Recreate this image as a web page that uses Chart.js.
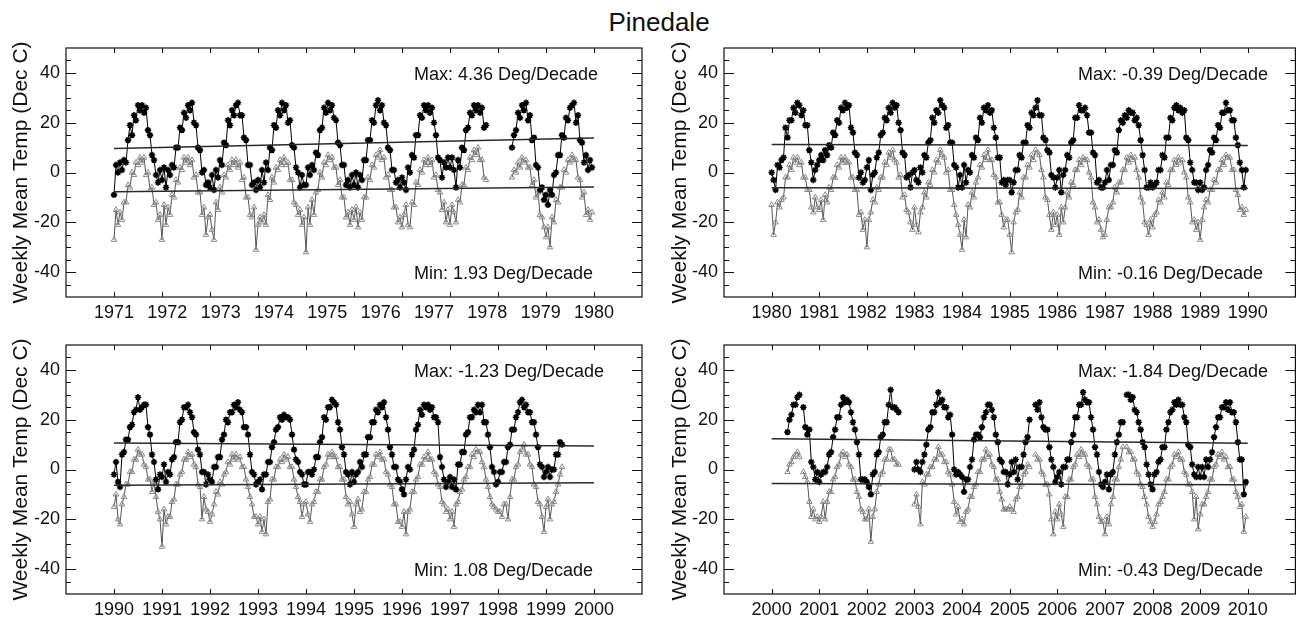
<!DOCTYPE html>
<html><head><meta charset="utf-8">
<script src="https://cdn.jsdelivr.net/npm/chart.js@4.4.0/dist/chart.umd.min.js"></script>
<style>
html,body{margin:0;padding:0;background:#fff;width:1301px;height:617px;overflow:hidden;position:relative;}
#title{position:absolute;left:0;width:1318px;top:9px;line-height:26px;text-align:center;font-size:26px;font-family:"Liberation Sans",Arial,Helvetica,sans-serif;color:#111;}
canvas{position:absolute;}
</style></head><body>
<div id="title">Pinedale</div>
<canvas id="c0" width="655" height="330" style="left:0;top:0"></canvas>
<canvas id="c1" width="646" height="330" style="left:655px;top:0"></canvas>
<canvas id="c2" width="655" height="330" style="left:0;top:297px"></canvas>
<canvas id="c3" width="646" height="330" style="left:655px;top:297px"></canvas>
<script>
// ---------- DATA (semi-monthly readings, one row per year, 24 per row) ----------
const START_YEARS = [1971, 1980, 1990, 2000];
const LABELS_1 = ['1971','1972','1973','1974','1975','1976','1977','1978','1979','1980'];
const LABELS_2 = ['1980','1981','1982','1983','1984','1985','1986','1987','1988','1989','1990'];
const LABELS_3 = ['1990','1991','1992','1993','1994','1995','1996','1997','1998','1999','2000'];
const LABELS_4 = ['2000','2001','2002','2003','2004','2005','2006','2007','2008','2009','2010'];
const Y_TICKS = [-40, -20, 0, 20, 40];
const MAX_TEXT = ['Max: 4.36 Deg/Decade','Max: -0.39 Deg/Decade','Max: -1.23 Deg/Decade','Max: -1.84 Deg/Decade'];
const MIN_TEXT = ['Min: 1.93 Deg/Decade','Min: -0.16 Deg/Decade','Min: 1.08 Deg/Decade','Min: -0.43 Deg/Decade'];
const TREND_MAX = [[9.6, 13.9], [11.2, 10.8], [10.6, 9.4], [12.3, 10.5]];
const TREND_MIN = [[-7.7, -5.8], [-6.1, -6.4], [-6.3, -5.3], [-5.6, -6.1]];
const N = null;

const P1_MAX = [
[-9,3,0,4,1,5,4,13,19,15,23,21,27,25,27,24,26,17,15,7,5,-1,-4,1],
[-3,2,-6,1,-1,3,2,10,10,18,17,24,22,27,25,28,20,19,10,9,0,1,-5,-4],
[-6,-1,-7,1,-2,5,3,12,11,21,19,25,23,27,28,23,23,14,13,3,3,-5,-4,-7],
[-3,-6,1,-4,4,1,10,9,19,18,25,23,28,25,27,20,21,11,10,2,0,-6,-1,-5],
[-5,2,-1,3,1,8,7,17,18,26,24,28,25,27,22,21,12,11,3,3,-5,-3,-6,-1],
[-5,0,-6,-1,-3,5,5,13,13,21,20,27,29,25,27,20,19,10,9,1,1,-4,-3,-6],
[-2,-4,-7,2,0,7,6,15,15,23,22,27,25,27,24,26,20,15,6,5,-2,4,2,6],
[2,6,1,-6,5,2,10,9,17,18,24,23,27,25,27,24,26,18,19,N,N,N,N,N],
[N,N,N,N,N,N,N,10,15,17,24,22,27,25,28,21,23,13,14,3,2,-7,-6,-11],
[-9,-13,-7,-9,-1,0,7,7,15,14,22,21,26,27,28,20,23,13,12,4,7,1,5,2]];
const P1_MIN = [
[-27,-15,-21,-16,-19,-12,-12,-5,-6,0,-1,4,3,6,4,6,-1,0,-7,-6,-13,-12,-19,-17],
[-27,-13,-21,-14,-17,-9,-10,-3,-4,2,1,6,4,6,3,5,-2,-1,-8,-8,-17,-14,-25,-18],
[-17,-23,-27,-12,-15,-6,-8,-1,-2,3,1,5,3,5,2,4,-3,-2,-10,-10,-17,-18,-14,-31],
[-21,-18,-20,-17,-21,-9,-11,-2,-4,2,1,5,3,6,3,4,-3,-3,-12,-13,-17,-15,-21,-18],
[-32,-14,-21,-11,-17,-8,-7,0,-2,4,3,7,5,6,2,2,-5,-3,-10,-10,-18,-16,-21,-15],
[-19,-14,-22,-16,-19,-10,-10,-2,-3,3,2,7,6,9,5,6,-2,-1,-7,-7,-14,-14,-20,-18],
[-22,-17,-13,-21,-22,-12,-13,-4,-5,1,0,5,3,6,3,5,-2,-1,-7,-8,-15,-12,-20,-15],
[-21,-13,-16,-20,-11,-12,-5,-5,2,1,6,5,9,7,10,5,5,-2,-3,N,N,N,N,N],
[N,N,N,N,N,N,N,-2,1,0,4,2,6,4,5,2,2,-5,-3,-10,-8,-17,-18,-22],
[-26,-22,-30,-18,-20,-11,-12,-6,-6,1,0,5,4,7,5,5,-2,-3,-10,-8,-17,-15,-19,-16]];

const P2_MAX = [
[0,-3,-7,3,2,5,6,18,14,21,21,26,24,28,27,23,25,19,19,9,4,-3,1,3],
[5,7,5,9,7,11,10,16,15,21,20,26,25,28,26,27,18,16,8,7,-2,0,-4,-3],
[2,5,-7,-1,0,6,8,15,16,22,21,26,24,28,26,27,20,17,8,7,-2,-1,-6,0],
[1,-3,-4,2,0,7,6,12,13,22,20,25,24,29,27,26,18,19,12,12,3,2,-6,-1],
[-6,3,-4,1,0,7,6,14,13,22,20,26,25,27,24,25,18,14,6,6,-4,-3,-5,-3],
[-3,-8,-4,1,1,7,6,12,12,19,18,24,23,26,29,23,23,14,13,9,8,-1,-2,-6],
[-2,1,-8,-1,1,7,6,12,13,22,22,27,25,25,26,23,16,16,8,7,-4,-3,-6,-6],
[-4,1,-3,3,3,9,8,17,21,20,23,22,25,24,24,21,22,19,13,7,1,-6,-6,-4],
[-6,-5,-4,1,1,7,6,14,14,22,21,26,27,25,26,24,25,14,13,4,1,-4,-4,-7],
[-4,-7,-6,1,3,9,8,14,13,19,18,24,24,28,25,25,21,21,14,11,4,1,-6,1]];
const P2_MIN = [
[-13,-25,-20,-12,-14,-11,-10,-2,-2,3,1,6,4,6,3,4,-2,-2,-7,-7,-14,-16,-10,-14],
[-15,-11,-19,-9,-12,-6,-7,-2,-2,3,2,6,4,6,4,4,-2,-2,-7,-7,-17,-16,-23,-19],
[-30,-19,-16,-11,-12,-6,-7,-2,-2,4,3,8,6,9,5,4,-2,-1,-10,-9,-15,-16,-20,-23],
[-14,-21,-24,-16,-14,-8,-10,-4,-5,1,0,5,4,9,7,6,0,1,-7,-7,-13,-17,-21,-25],
[-31,-19,-26,-13,-14,-8,-10,-4,-2,3,2,7,5,9,5,5,-1,-2,-12,-12,-17,-22,-19,-19],
[-25,-32,-20,-16,-15,-8,-10,-2,-2,3,2,7,5,9,8,7,1,-2,-10,-11,-17,-23,-16,-21],
[-17,-25,-14,-20,-14,-8,-10,-4,-5,1,1,5,3,6,5,5,0,-2,-12,-14,-20,-19,-23,-26],
[-25,-19,-14,-14,-12,-6,-8,-4,-4,1,1,6,4,7,5,6,1,-2,-10,-12,-20,-21,-25,-19],
[-22,-17,-16,-11,-12,-8,-10,-4,-5,1,1,5,3,6,4,5,0,-2,-10,-12,-20,-19,-23,-20],
[-27,-19,-14,-11,-12,-7,-7,-3,-4,1,1,5,3,7,6,6,1,1,-7,-9,-15,-14,-17,-15]];

const P3_MAX = [
[-2,3,-5,-7,6,7,12,12,17,18,23,24,29,24,25,26,26,17,14,6,3,-4,-8,-2],
[-3,2,-5,-1,-2,4,5,11,11,19,20,25,25,26,23,21,15,14,8,6,-1,-1,-6,-2],
[-4,-5,1,1,5,5,12,14,20,19,23,23,26,25,27,24,23,17,17,14,6,-1,-2,-6],
[-5,-4,-8,-2,-2,3,3,9,11,16,17,21,20,22,21,21,20,14,8,4,3,-1,-2,-6],
[-6,-1,-1,-2,0,5,5,11,13,21,20,25,25,28,27,26,19,16,9,6,-1,-2,-6,-1],
[-5,-2,-1,3,1,6,6,13,13,19,19,24,23,26,25,27,21,16,9,6,1,1,-4,-5],
[-8,-10,-4,1,0,6,8,16,18,24,22,26,25,26,24,25,21,21,19,5,1,-4,-7,-5],
[-3,-7,-4,-8,2,2,7,7,14,15,21,21,24,23,26,23,26,19,19,14,9,1,-1,-6],
[-5,-1,-1,3,3,9,10,16,16,21,23,27,28,25,26,23,23,19,19,14,9,2,1,-3],
[-1,1,-3,0,0,6,6,11,10]];
const P3_MIN = [
[-15,-10,-20,-22,-14,-11,-6,-6,-1,-1,4,4,8,6,6,2,1,-4,-4,-9,-5,-11,-17,-20],
[-31,-16,-22,-19,-19,-13,-12,-6,-6,-2,-1,4,4,7,5,6,2,1,-6,-7,-20,-11,-16,-17],
[-21,-18,-14,-9,-10,-5,-6,-2,-1,3,2,6,4,6,4,5,1,1,-4,-7,-11,-14,-19,-19],
[-22,-19,-25,-20,-26,-13,-12,-4,-4,1,1,4,3,6,4,5,1,1,-4,-7,-11,-13,-19,-14],
[-13,-18,-21,-14,-13,-9,-9,-4,-4,1,2,6,5,7,5,5,1,1,-4,-4,-11,-14,-13,-18],
[-23,-14,-12,-17,-16,-9,-9,-4,-3,2,2,6,5,7,4,4,-1,-2,-6,-7,-14,-14,-21,-21],
[-23,-17,-26,-17,-16,-9,-9,-4,-3,2,2,5,4,7,4,4,-1,-2,-6,-7,-13,-14,-17,-16],
[-20,-17,-23,-14,-13,-9,-8,-4,-3,1,1,6,5,8,7,7,3,1,-4,-7,-11,-14,-15,-16],
[-17,-17,-19,-14,-14,-20,-11,-4,-4,1,2,7,8,10,6,6,2,1,-6,-7,-13,-14,-19,-25],
[-15,-12,-20,-14,-13,-9,-6,-2,1]];

const P4_MAX = [
[N,N,N,N,N,N,N,N,15,20,22,26,26,29,30,N,25,17,14,16,3,1,-4,-1],
[-5,-2,-1,-1,1,6,7,13,16,21,21,26,29,27,28,27,23,19,16,11,6,-4,-4,-4],
[-5,-7,-10,-2,-1,6,7,13,14,19,19,26,32,25,25,24,23],
[0,3,0,-1,3,6,10,16,17,23,23,26,31,27,28,25,25,21,22,14,0,-2,-1,-2],
[-3,-9,-4,-4,1,4,12,14,14,13,17,21,23,26,26,24,21,14,11,4,3,-1,-1,-6],
[-2,3,-1,4,-4,1,1,6,11,13,20,N,N,26,24,27,21,17,16,16,9,4,1,-5],
[-3,-1,-6,1,1,4,4,11,14,21,21,26,26,31,28,27,27,21,16,9,6,-1,-6,-7],
[-5,-2,-8,-2,-1,6,11,14,19,19,N,30,30,28,29,24,23,19,16,11,9,2,-2,-6],
[-8,-2,-1,3,4,9,9,16,19,23,24,27,26,28,26,26,21,19,10,9,2,-2,-3,1],
[-3,1,-3,4,1,4,7,13,17,21,21,25,25,27,24,27,23,23,19,11,4,4,-10,-5]];
const P4_MIN = [
[N,N,N,N,N,N,N,N,-1,2,3,5,6,7,5,N,-1,-3,-5,-13,-19,-16,-20,-19],
[-21,-19,-13,-20,-13,-9,-9,-4,-3,1,2,6,7,5,6,2,1,-4,-4,-9,-11,-16,-17,-20],
[-20,-16,-29,-19,-16,-9,-6,-2,-1,4,4,8,8,4,4,2,2],
[-14,-10,-15,-22,-5,-6,-2,-2,1,1,4,4,9,6,6,3,3,-1,-2,-6,-13,-18,-15,-21],
[-20,-22,-17,-16,-11,-11,-7,-6,-1,-1,4,4,8,5,6,2,1,-4,-4,-9,-12,-16,-16,-16],
[-15,-16,-17,-12,-11,-7,-6,-2,-1,2,1,N,N,6,4,4,-1,-2,-6,-6,-10,-20,-26,-17],
[-20,-14,-18,-23,-11,-11,-4,-4,1,2,6,5,8,6,6,2,1,-4,-4,-11,-14,-19,-21,-21],
[-26,-19,-22,-14,-11,-4,-4,1,4,9,N,9,7,7,4,4,-1,-2,-6,-7,-11,-14,-19,-21],
[-23,-21,-18,-14,-13,-11,-9,-4,-4,1,2,6,5,7,4,4,-1,-2,-6,-6,-9,-20,-11,-24],
[-18,-14,-14,-11,-9,-4,-4,1,2,6,5,7,4,5,1,1,-4,-4,-9,-11,-15,-14,-25,-19]];

const MAX_SERIES = [P1_MAX, P2_MAX, P3_MAX, P4_MAX];
const MIN_SERIES = [P1_MIN, P2_MIN, P3_MIN, P4_MIN];
const TICK_LABELS = [LABELS_1, LABELS_2, LABELS_3, LABELS_4];

// ---------- RENDERING ----------
const FONT = '"Liberation Sans", Arial, Helvetica, sans-serif';
const STEPS_PER_YEAR = 24;

function toPoints(start, rows) {
  const pts = [];
  rows.forEach((row, yi) => {
    for (let j = 0; j < STEPS_PER_YEAR; j++) {
      const v = j < row.length ? row[j] : null;   // missing readings = gap
      pts.push({x: start + yi + j / STEPS_PER_YEAR, y: v});
    }
  });
  return pts;
}

const LAYOUT = [
  {id:'c0', yWidth:66, padRight:13, titlePad:9,  textX:414},
  {id:'c1', yWidth:69, padRight:1.5, titlePad:12.5, textX:423},
  {id:'c2', yWidth:66, padRight:13, titlePad:9,  textX:414},
  {id:'c3', yWidth:69, padRight:1.5, titlePad:12.5, textX:423}
];

function framePlugin(i) {
  const start = START_YEARS[i];
  return {
    id: 'frame' + i,
    afterDraw(chart) {
      const {ctx, chartArea: a, scales: {x, y}} = chart;
      ctx.save();
      ctx.strokeStyle = '#111';
      ctx.lineWidth = 1.2;
      ctx.strokeRect(a.left, a.top, a.right - a.left, a.bottom - a.top);
      ctx.lineWidth = 1;
      ctx.beginPath();
      for (let k = 0; k <= 10; k++) {
        const px = Math.round(x.getPixelForValue(start + k)) + 0.5;
        ctx.moveTo(px, a.bottom); ctx.lineTo(px, a.bottom - 5);
        ctx.moveTo(px, a.top); ctx.lineTo(px, a.top + 5);
      }
      for (let v = -45; v <= 45; v += 5) {
        const py = Math.round(y.getPixelForValue(v)) + 0.5;
        const len = (v % 20 === 0) ? 10 : 5;
        ctx.moveTo(a.left, py); ctx.lineTo(a.left + len, py);
        ctx.moveTo(a.right, py); ctx.lineTo(a.right - len, py);
      }
      ctx.stroke();
      ctx.fillStyle = '#111';
      ctx.font = '18px ' + FONT;
      ctx.textAlign = 'left';
      ctx.textBaseline = 'alphabetic';
      ctx.fillText(MAX_TEXT[i], LAYOUT[i].textX, y.getPixelForValue(37.3));
      ctx.fillText(MIN_TEXT[i], LAYOUT[i].textX, y.getPixelForValue(-42.6));
      ctx.restore();
    }
  };
}

for (let i = 0; i < 4; i++) {
  const start = START_YEARS[i];
  const labels = TICK_LABELS[i];
  const labelPos = labels.map((_, k) => start + k * 10 / (labels.length - 1));
  const L = LAYOUT[i];
  new Chart(document.getElementById(L.id), {
    type: 'line',
    data: {
      datasets: [
        {data: [{x: start, y: TREND_MAX[i][0]}, {x: start + 10, y: TREND_MAX[i][1]}],
         borderColor: '#2a2a2a', borderWidth: 1.5, pointRadius: 0, order: 0},
        {data: [{x: start, y: TREND_MIN[i][0]}, {x: start + 10, y: TREND_MIN[i][1]}],
         borderColor: '#2a2a2a', borderWidth: 1.5, pointRadius: 0, order: 0},
        {data: toPoints(start, MAX_SERIES[i]), borderColor: '#000', borderWidth: 1,
         pointStyle: 'star', pointRadius: 3.2, pointBorderColor: '#000', pointBorderWidth: 1.6,
         pointBackgroundColor: '#000', spanGaps: false, order: 1},
        {data: toPoints(start, MIN_SERIES[i]), borderColor: '#555', borderWidth: 1,
         pointStyle: 'triangle', pointRadius: 3.2, pointBorderColor: '#8a8a8a', pointBorderWidth: 1,
         pointBackgroundColor: 'rgba(255,255,255,0)', spanGaps: false, order: 2}
      ]
    },
    options: {
      responsive: false, animation: false, devicePixelRatio: 1, events: [],
      layout: {padding: {left: 0, top: 48, right: L.padRight, bottom: 0}},
      plugins: {legend: {display: false}, tooltip: {enabled: false}, title: {display: false}},
      elements: {line: {tension: 0}},
      scales: {
        x: {
          type: 'linear', min: start - 1, max: start + 11,
          afterBuildTicks: s => { s.ticks = labelPos.map(v => ({value: v})); },
          afterFit: s => { s.height = 33; },
          grid: {display: false, drawTicks: false}, border: {display: false},
          ticks: {autoSkip: false, maxRotation: 0, minRotation: 0, padding: 5, color: '#111',
                  font: {family: FONT, size: 18}, callback: (v, idx) => labels[idx]}
        },
        y: {
          type: 'linear', min: -50, max: 50,
          afterBuildTicks: s => { s.ticks = Y_TICKS.map(v => ({value: v})); },
          afterFit: s => { s.width = L.yWidth; },
          grid: {display: false, drawTicks: false}, border: {display: false},
          ticks: {padding: 6, color: '#111', font: {family: FONT, size: 18}, callback: v => String(v)},
          title: {display: true, text: 'Weekly Mean Temp (Dec C)', color: '#111',
                  font: {family: FONT, size: 21}, padding: {top: L.titlePad, bottom: 0}}
        }
      }
    },
    plugins: [framePlugin(i)]
  });
}
</script>
</body></html>
